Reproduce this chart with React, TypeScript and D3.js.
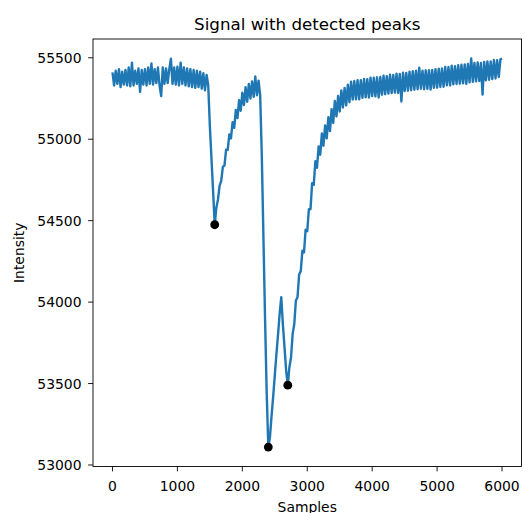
import React from 'react';
import * as d3 from 'd3';

const TITLE = 'Signal with detected peaks';
const X_LABEL = 'Samples';
const Y_LABEL = 'Intensity';
const SAMPLE_STEP = 25;

// Signal values, one every SAMPLE_STEP samples (0 .. 6000)
const signal: number[] = [
  // 0 .. 1450 (flat, noisy)
  55410, 55330, 55420, 55340, 55430, 55320, 55415, 55335, 55425, 55330,
  55440, 55325, 55470, 55330, 55420, 55340, 55435, 55290, 55425, 55335,
  55430, 55330, 55440, 55340, 55465, 55335, 55430, 55345, 55440, 55330,
  55265, 55440, 55340, 55435, 55345, 55430, 55495, 55340, 55440, 55335,
  55445, 55330, 55470, 55340, 55440, 55330, 55435, 55325, 55430, 55320,
  55425, 55315, 55420, 55320, 55415, 55310, 55405, 55300, 55395,
  // 1475 .. 1575 (first dip)
  55330, 55080, 54880, 54680, 54475,
  // 1600 .. 2275 (recovery)
  54580, 54630, 54715, 54745, 54830, 54840, 54935, 54935, 55030, 55005,
  55105, 55070, 55180, 55130, 55240, 55175, 55285, 55210, 55320, 55230,
  55340, 55250, 55355, 55260, 55385, 55270, 55360, 55270,
  // 2300 .. 2700 (second dip and W)
  54900, 54400, 53900, 53450, 53110, 53170, 53300, 53420, 53550, 53680,
  53800, 53930, 54030, 53860, 53720, 53580, 53490,
  // 2725 .. 3500 (steep recovery)
  53600, 53660, 53805, 53865, 54010, 54030, 54170, 54190, 54315, 54305,
  54445, 54435, 54570, 54570, 54730, 54720, 54865, 54825, 54955, 54905,
  55035, 54960, 55085, 55005, 55135, 55050, 55185, 55100, 55235, 55140,
  55265, 55170,
  // 3525 .. 6000 (slow rise)
  55300, 55195, 55315, 55208, 55335, 55227, 55353, 55243, 55357, 55245,
  55363, 55245, 55362, 55254, 55370, 55257, 55369, 55256, 55378, 55265,
  55377, 55263, 55380, 55256, 55382, 55273, 55390, 55276, 55387, 55280,
  55396, 55283, 55394, 55286, 55403, 55284, 55401, 55232, 55408, 55295,
  55407, 55298, 55415, 55301, 55418, 55304, 55421, 55307, 55439, 55310,
  55421, 55307, 55423, 55309, 55424, 55305, 55425, 55315, 55430, 55316,
  55433, 55321, 55434, 55322, 55444, 55331, 55443, 55330, 55451, 55337,
  55448, 55339, 55455, 55341, 55457, 55343, 55459, 55340, 55462, 55349,
  55496, 55352, 55469, 55355, 55471, 55357, 55468, 55274, 55475, 55361,
  55478, 55365, 55477, 55369, 55486, 55373, 55485, 55382, 55490, 55495,
];

const peakSamples = [1575, 2400, 2700];
const xTicks = [0, 1000, 2000, 3000, 4000, 5000, 6000];
const yTicks = [53000, 53500, 54000, 54500, 55000, 55500];

const LINE_COLOR = '#1f77b4';
const FONT = '"DejaVu Sans", sans-serif';

export default function App() {
  const W = 525;
  const H = 513;
  const plot = { left: 93, right: 521.5, top: 39, bottom: 466.5 };

  const samples = signal.map((_, i) => i * SAMPLE_STEP);
  const [x0, x1] = d3.extent(samples) as [number, number];
  const [y0, y1] = d3.extent(signal) as [number, number];
  const xPad = (x1 - x0) * 0.05;
  const yPad = (y1 - y0) * 0.05;

  const x = d3.scaleLinear().domain([x0 - xPad, x1 + xPad]).range([plot.left, plot.right]);
  const y = d3.scaleLinear().domain([y0 - yPad, y1 + yPad]).range([plot.bottom, plot.top]);

  const line = d3
    .line<number>()
    .x((_, i) => x(samples[i]))
    .y((d) => y(d));

  const peaks = peakSamples.map((s) => ({ s, v: signal[Math.round(s / SAMPLE_STEP)] }));
  const tickLen = 4.9;
  const fs = 13.9;

  return (
    <svg
      width={W}
      height={H}
      style={{ position: 'absolute', left: 0, top: 0, background: '#fff' }}
      fontFamily={FONT}
    >
      <rect x={0} y={0} width={W} height={H} fill="#fff" />
      <path
        d={line(signal) || ''}
        fill="none"
        stroke={LINE_COLOR}
        strokeWidth={2.4}
        strokeLinejoin="round"
      />
      {peaks.map((p) => (
        <circle key={p.s} cx={x(p.s)} cy={y(p.v)} r={4.4} fill="#000" />
      ))}
      <rect
        x={plot.left}
        y={plot.top}
        width={plot.right - plot.left}
        height={plot.bottom - plot.top}
        fill="none"
        stroke="#000"
        strokeWidth={0.9}
      />
      {xTicks.map((t) => (
        <g key={t}>
          <line x1={x(t)} x2={x(t)} y1={plot.bottom} y2={plot.bottom + tickLen} stroke="#000" strokeWidth={0.9} />
          <text x={x(t)} y={490.5} textAnchor="middle" fontSize={fs} fill="#000">
            {t}
          </text>
        </g>
      ))}
      {yTicks.map((t) => (
        <g key={t}>
          <line x1={plot.left - tickLen} x2={plot.left} y1={y(t)} y2={y(t)} stroke="#000" strokeWidth={0.9} />
          <text x={plot.left - 11.5} y={y(t)} dy="0.36em" textAnchor="end" fontSize={fs} fill="#000">
            {t}
          </text>
        </g>
      ))}
      <text x={(plot.left + plot.right) / 2} y={29.5} textAnchor="middle" fontSize={16.7} fill="#000">
        {TITLE}
      </text>
      <text x={(plot.left + plot.right) / 2} y={511.5} textAnchor="middle" fontSize={fs} fill="#000">
        {X_LABEL}
      </text>
      <text
        transform={`translate(23.5, ${(plot.top + plot.bottom) / 2}) rotate(-90)`}
        textAnchor="middle"
        fontSize={fs}
        fill="#000"
      >
        {Y_LABEL}
      </text>
    </svg>
  );
}
